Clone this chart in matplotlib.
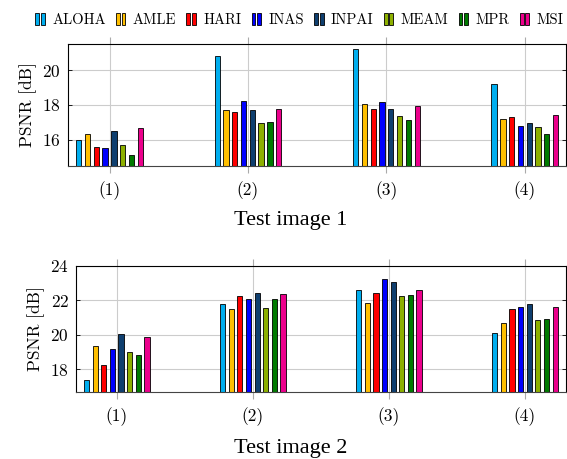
import numpy as np
import matplotlib
matplotlib.use('Agg')
from matplotlib import pyplot as plt
from matplotlib.patches import Rectangle
from matplotlib.container import BarContainer
from matplotlib.legend_handler import HandlerBase

methods = ['ALOHA', 'AMLE', 'HARI', 'INAS', 'INPAI', 'MEAM', 'MPR', 'MSI']
colors = ['#00AEEF', '#FFBF00', '#FF0000', '#0000FF', '#0F3F6F', '#8DB000', '#007A00', '#EC008C']
groups = ['(1)', '(2)', '(3)', '(4)']

# PSNR [dB], one row per method, one column per group
psnr1 = [
    [16.00, 20.80, 21.19, 19.19],  # ALOHA
    [16.32, 17.72, 18.03, 17.16],  # AMLE
    [15.56, 17.57, 17.74, 17.28],  # HARI
    [15.54, 18.24, 18.18, 16.78],  # INAS
    [16.50, 17.72, 17.74, 16.95],  # INPAI
    [15.69, 16.93, 17.38, 16.70],  # MEAM
    [15.13, 16.99, 17.13, 16.30],  # MPR
    [16.67, 17.74, 17.91, 17.39],  # MSI
]
psnr2 = [
    [17.37, 21.80, 22.57, 20.12],
    [19.32, 21.49, 21.84, 20.68],
    [18.22, 22.22, 22.43, 21.51],
    [19.19, 22.05, 23.23, 21.58],
    [20.04, 22.42, 23.07, 21.80],
    [19.01, 21.55, 22.22, 20.83],
    [18.84, 22.07, 22.30, 20.93],
    [19.86, 22.38, 22.59, 21.62],
]


class TwoBars(HandlerBase):
    # pgfplots style ybar legend icon: two small bars
    def create_artists(self, legend, orig, x0, y0, width, height, fontsize, trans):
        fc = orig.patches[0].get_facecolor()
        w = width * 0.38
        out = []
        for k in range(2):
            out.append(Rectangle((x0 + k * width * 0.55, y0 - 0.1 * height), w, height * 1.2,
                                 facecolor=fc, edgecolor='black', lw=0.6, transform=trans))
        return out


plt.rcParams['font.family'] = ['cmr10', 'DejaVu Serif']
plt.rcParams['axes.formatter.use_mathtext'] = True

fig = plt.figure(figsize=(5.67, 4.59), dpi=100)
ax1 = fig.add_axes([0.1199, 0.639, 0.879, 0.265])
ax2 = fig.add_axes([0.134, 0.1466, 0.8637, 0.2745])

x = np.arange(len(groups))
pitch = 0.0635
bw = 0.0385


def draw(ax, data, ylim, yticks):
    ax.set_axisbelow(True)
    handles = []
    for i, m in enumerate(methods):
        h = ax.bar(x + (i - 3.5) * pitch, data[i], bw, bottom=0, color=colors[i],
                   edgecolor='black', linewidth=0.6, label=m)
        handles.append(h)
    ax.set_xlim(-0.30, 3.30)
    ax.set_ylim(*ylim)
    ax.set_xticks(x)
    ax.set_xticklabels(groups, fontsize=12.5)
    ax.set_yticks(yticks)
    ax.tick_params(axis='y', labelsize=12.5, direction='in', right=True, length=3, width=0.6, pad=5)
    ax.tick_params(axis='x', direction='out', top=True, length=5, width=0.8, color='#aaaaaa', pad=6)
    ax.grid(True, color='#cccccc', linewidth=0.8)
    for s in ax.spines.values():
        s.set_linewidth(0.8)
    ax.spines['bottom'].set_color('#444444')
    ax.set_ylabel('PSNR [dB]', fontsize=12.5, labelpad=4)
    return handles


h = draw(ax1, psnr1, (14.5, 21.5), [16, 18, 20])
draw(ax2, psnr2, (16.7, 24), [18, 20, 22, 24])

fig.legend(handles=h, labels=methods, loc='center', bbox_to_anchor=(0.528, 1 - 20.5 / 459), ncol=8,
           frameon=False, fontsize=10.5, handler_map={BarContainer: TwoBars()},
           handlelength=0.7, handleheight=0.7, handletextpad=0.45, columnspacing=0.7,
           borderpad=0, borderaxespad=0)

fig.text(0.512, 1 - 221 / 459, 'Test image 1', ha='center', va='center', fontsize=16,
         family='Liberation Serif')
fig.text(0.512, 1 - 448 / 459, 'Test image 2', ha='center', va='center', fontsize=16,
         family='Liberation Serif')

fig.savefig('out.png', dpi=100)
